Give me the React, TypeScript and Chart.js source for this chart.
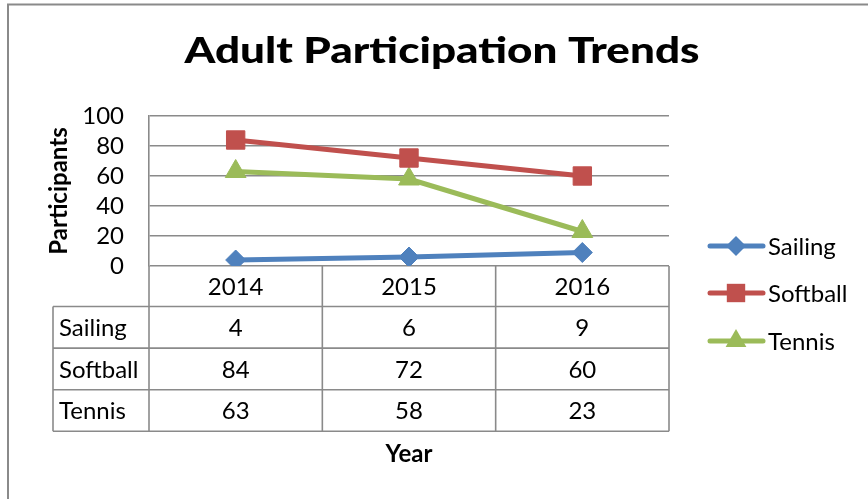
import { useEffect, useRef } from 'react';
import { Chart, registerables } from 'chart.js';

Chart.register(...registerables);

const years = ['2014', '2015', '2016'];
const seriesNames = ['Sailing', 'Softball', 'Tennis'];
const sailing = [4, 6, 9];
const softball = [84, 72, 60];
const tennis = [63, 58, 23];
const seriesColors = ['#4F81BD', '#C0504D', '#9BBB59'];
const seriesMarkers = ['rectRot', 'rect', 'triangle'];
const seriesRadius = [10, 13, 12];
const yMin = 0;
const yMax = 100;
const yStep = 20;

const FONT = 'Lato, "Open Sans", sans-serif';
const GRID = '#8a8a8a';
const TXT = 24;

function drawMarker(ctx: CanvasRenderingContext2D, style: string, x: number, y: number, r: number, color: string) {
  ctx.save();
  ctx.fillStyle = color;
  ctx.beginPath();
  if (style === 'rectRot') {
    ctx.moveTo(x, y - r);
    ctx.lineTo(x + r, y);
    ctx.lineTo(x, y + r);
    ctx.lineTo(x - r, y);
  } else if (style === 'rect') {
    const s = r * Math.SQRT1_2;
    ctx.rect(x - s, y - s, 2 * s, 2 * s);
  } else {
    for (let i = 0; i < 3; i++) {
      const a = (i * 2 * Math.PI) / 3;
      const px = x + Math.sin(a) * r;
      const py = y - Math.cos(a) * r;
      if (i === 0) ctx.moveTo(px, py);
      else ctx.lineTo(px, py);
    }
  }
  ctx.closePath();
  ctx.fill();
  ctx.restore();
}

const decorPlugin = {
  id: 'decor',
  beforeDraw(chart: any) {
    const ctx = chart.ctx as CanvasRenderingContext2D;
    ctx.save();
    ctx.fillStyle = '#ffffff';
    ctx.fillRect(0, 0, chart.width, chart.height);
    ctx.strokeStyle = GRID;
    ctx.lineWidth = 2;
    ctx.strokeRect(8, 4.5, 1000, 1000);
    ctx.restore();
  },
  afterDraw(chart: any) {
    const ctx = chart.ctx as CanvasRenderingContext2D;
    const area = chart.chartArea;
    const xs = chart.scales.x;
    ctx.save();
    // Title, fitted to the reference width
    ctx.fillStyle = '#000';
    ctx.textAlign = 'center';
    ctx.textBaseline = 'alphabetic';
    ctx.font = `900 36px ${FONT}`;
    const title = 'Adult Participation Trends';
    const tw = ctx.measureText(title).width;
    const sx = 515 / tw;
    ctx.save();
    ctx.translate(442, 63);
    ctx.scale(sx, 1);
    ctx.fillText(title, 0, 0);
    ctx.restore();

    // Y axis title
    ctx.save();
    ctx.translate(67, (area.top + area.bottom) / 2);
    ctx.rotate(-Math.PI / 2);
    ctx.font = `bold ${TXT}px ${FONT}`;
    ctx.textBaseline = 'alphabetic';
    ctx.fillText('Participants', 0, 0);
    ctx.restore();

    // Data table
    const half = (xs.getPixelForValue(1) - xs.getPixelForValue(0)) / 2;
    const bounds = [0, 1, 2].map((i) => xs.getPixelForValue(i) - half);
    bounds.push(xs.getPixelForValue(2) + half);
    const top = area.bottom;
    const headerH = 40.5;
    const rowH = 41.6;
    const labelLeft = 53;
    const tableBottom = top + headerH + rowH * 3;
    ctx.strokeStyle = GRID;
    ctx.lineWidth = 1.6;
    ctx.beginPath();
    bounds.forEach((bx) => {
      ctx.moveTo(bx, top);
      ctx.lineTo(bx, tableBottom);
    });
    ctx.moveTo(labelLeft, top + headerH);
    ctx.lineTo(labelLeft, tableBottom);
    for (let r = 0; r <= 3; r++) {
      const y = top + headerH + rowH * r;
      ctx.moveTo(labelLeft, y);
      ctx.lineTo(bounds[3], y);
    }
    ctx.stroke();

    ctx.fillStyle = '#000';
    ctx.font = `${TXT}px ${FONT}`;
    ctx.textBaseline = 'middle';
    ctx.textAlign = 'center';
    years.forEach((yr, i) => {
      ctx.fillText(yr, xs.getPixelForValue(i), top + headerH / 2 + 1);
    });
    const rows = [sailing, softball, tennis];
    rows.forEach((vals, r) => {
      const cy = top + headerH + rowH * r + rowH / 2 + 1;
      ctx.textAlign = 'left';
      ctx.fillText(seriesNames[r], labelLeft + 6, cy);
      ctx.textAlign = 'center';
      vals.forEach((v, i) => {
        ctx.fillText(String(v), xs.getPixelForValue(i), cy);
      });
    });

    // X axis title
    ctx.font = `bold ${TXT}px ${FONT}`;
    ctx.textAlign = 'center';
    ctx.textBaseline = 'alphabetic';
    ctx.fillText('Year', xs.getPixelForValue(1), 462);

    // Legend
    const legendY = [246, 293, 341];
    seriesNames.forEach((name, i) => {
      const y = legendY[i];
      ctx.strokeStyle = seriesColors[i];
      ctx.lineWidth = 5;
      ctx.lineCap = 'round';
      ctx.beginPath();
      ctx.moveTo(710, y);
      ctx.lineTo(763, y);
      ctx.stroke();
      drawMarker(ctx, seriesMarkers[i], 736, y, seriesRadius[i], seriesColors[i]);
      ctx.fillStyle = '#000';
      ctx.font = `${TXT}px ${FONT}`;
      ctx.textAlign = 'left';
      ctx.textBaseline = 'middle';
      ctx.fillText(name, 768, y + 1);
    });
    ctx.restore();
  },
};

export default function App() {
  const ref = useRef<HTMLCanvasElement | null>(null);
  useEffect(() => {
    if (!ref.current) return;
    const seriesData = [sailing, softball, tennis];
    const chart = new Chart(ref.current, {
      type: 'line',
      data: {
        labels: years,
        datasets: seriesNames.map((name, i) => ({
          label: name,
          data: seriesData[i],
          borderColor: seriesColors[i],
          backgroundColor: seriesColors[i],
          borderWidth: 5,
          pointStyle: seriesMarkers[i] as any,
          pointRadius: seriesRadius[i],
          pointHoverRadius: seriesRadius[i],
          pointBackgroundColor: seriesColors[i],
          pointBorderColor: seriesColors[i],
          pointBorderWidth: 1,
          tension: 0,
        })),
      },
      options: {
        animation: false,
        responsive: false,
        devicePixelRatio: 1,
        layout: { padding: { top: 116, left: 0, right: 199, bottom: 233 } },
        plugins: {
          legend: { display: false },
          title: { display: false },
          tooltip: { enabled: false },
        },
        scales: {
          x: {
            type: 'category',
            display: false,
            offset: true,
          },
          y: {
            min: yMin,
            max: yMax,
            afterFit: (s: any) => {
              s.width = 149;
            },
            ticks: {
              stepSize: yStep,
              autoSkip: false,
              padding: 25,
              color: '#000',
              font: { family: FONT, size: TXT },
            },
            grid: { color: GRID, lineWidth: 1.6, drawTicks: false },
            border: { display: true, color: GRID, width: 1.6 },
          },
        },
      },
      plugins: [decorPlugin],
    });
    return () => chart.destroy();
  }, []);
  return (
    <div style={{ position: 'fixed', left: 0, top: 0, width: 868, height: 499, background: '#fff' }}>
      <canvas ref={ref} width={868} height={499} style={{ width: 868, height: 499, display: 'block' }} />
    </div>
  );
}
